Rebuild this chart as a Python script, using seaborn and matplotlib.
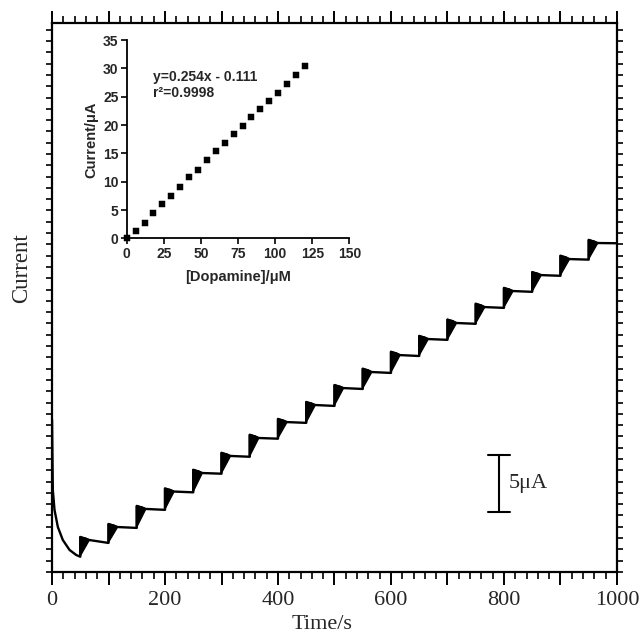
import matplotlib
matplotlib.use("Agg")
import matplotlib.pyplot as plt
from matplotlib.ticker import MultipleLocator, FuncFormatter
import pandas as pd
import seaborn as sns

# amperometric trace, values (time in s, current in uA)
decay_t = [0, 1.4, 4.4, 10.3, 19.1, 31, 42.9, 50]
decay_i = [13.5, 7.26, 5.49, 3.98, 2.83, 1.95, 1.50, 1.35]

step_t = [50, 100, 150, 200, 250, 300, 350, 400, 450, 500,
          550, 600, 650, 700, 750, 800, 850, 900, 950]
step_peak = [3.10, 4.25, 5.85, 7.40, 9.05, 10.55, 12.15, 13.55, 15.05, 16.55,
             18.00, 19.50, 20.90, 22.35, 23.75, 25.15, 26.55, 28.00, 29.40]
step_level = [2.83, 3.98, 5.58, 7.12, 8.76, 10.27, 11.86, 13.27, 14.78, 16.28,
              17.70, 19.20, 20.62, 22.04, 23.45, 24.87, 26.28, 27.70, 29.12]
step_end = [2.57, 3.90, 5.50, 7.05, 8.70, 10.20, 11.80, 13.20, 14.70, 16.20,
            17.62, 19.12, 20.55, 21.97, 23.38, 24.80, 26.22, 27.65, 29.10]
t_end = 1000

# calibration inset
conc = [0, 6, 12, 18, 24, 30, 36, 42, 48, 54, 60, 66, 72, 78, 84, 90, 96, 102, 108, 114, 120]
resp = [0, 1.24, 2.76, 4.41, 6.0, 7.47, 9.12, 10.76, 12.1, 13.8, 15.5, 16.9, 18.4, 19.9,
        21.35, 22.8, 24.3, 25.7, 27.2, 28.8, 30.5]

BLOB_W = 16  # s, width of the noisy transient after each addition
SCALE_T, SCALE_LO, SCALE_HI = 791, 5.34, 10.35

sns.set_theme(style="ticks")
plt.rcParams["font.family"] = ["Liberation Serif", "DejaVu Serif"]

# build the trace as an ordered list of knots
tt = list(decay_t)
ii = list(decay_i)
blobs = []
prev = decay_i[-1]
for k, t in enumerate(step_t):
    nxt = step_t[k + 1] if k + 1 < len(step_t) else t_end
    tt += [t, t + BLOB_W, nxt]
    ii += [step_peak[k], step_level[k], step_end[k]]
    blobs.append(([t - 0.8, t - 0.8, t + 0.6 * BLOB_W, t + BLOB_W],
                  [prev, step_peak[k], step_peak[k] - 0.1, step_level[k]]))
    prev = step_end[k]
trace = pd.DataFrame({"t": tt, "i": ii})

fig = plt.figure(figsize=(6.4, 6.33), dpi=100)
ax = fig.add_axes([0.0813, 0.0964, 0.8827, 0.8673])
sns.lineplot(data=trace, x="t", y="i", sort=False, estimator=None, color="black",
             linewidth=1.7, ax=ax)
for bx, by in blobs:
    ax.fill(bx, by, color="black", linewidth=1.0)

ax.set_xlim(0, 1000)
ax.set_ylim(0, 48.6)
for s in ax.spines.values():
    s.set_visible(True)
    s.set_linewidth(1.6)
    s.set_color("black")
ax.xaxis.set_major_locator(MultipleLocator(100))
ax.xaxis.set_minor_locator(MultipleLocator(20))
ax.xaxis.set_major_formatter(FuncFormatter(lambda v, p: f"{int(v)}" if int(v) % 200 == 0 else ""))
ax.yaxis.set_major_locator(MultipleLocator(1))
ax.yaxis.set_minor_locator(MultipleLocator(1))
ax.tick_params(axis="x", which="major", direction="out", length=9, width=1.4,
               top=True, bottom=True, labelsize=16, pad=5, color="black")
ax.tick_params(axis="x", which="minor", direction="out", length=5, width=1.2,
               top=True, bottom=True, color="black")
ax.tick_params(axis="y", which="both", direction="out", length=4.5, width=1.2,
               left=True, right=True, labelleft=False, color="black")
ax.set_xlabel("Time/s", fontsize=16)
ax.set_ylabel("Current", fontsize=16.5)
ax.xaxis.set_label_coords(0.477, -0.078)
ax.yaxis.set_label_coords(-0.036, 0.554)

# 5 uA scale bar
ax.plot([SCALE_T, SCALE_T], [SCALE_LO, SCALE_HI], color="black", lw=1.5)
ax.plot([SCALE_T - 19, SCALE_T + 19], [SCALE_LO, SCALE_LO], color="black", lw=1.5)
ax.plot([SCALE_T - 19, SCALE_T + 19], [SCALE_HI, SCALE_HI], color="black", lw=1.5)
ax.text(SCALE_T + 18, (SCALE_LO + SCALE_HI) / 2, "5\u03bcA", fontsize=16,
        ha="left", va="center")

# inset
ins = fig.add_axes([0.198, 0.6235, 0.348, 0.313])
ins.set_facecolor("none")
sns.scatterplot(x=conc, y=resp, marker="s", s=18, color="black", edgecolor="black",
                ax=ins, clip_on=False, zorder=5)
ins.set_xlim(0, 150)
ins.set_ylim(0, 35)
ins.xaxis.set_major_locator(MultipleLocator(25))
ins.yaxis.set_major_locator(MultipleLocator(5))
sns.despine(ax=ins)
for s in ["left", "bottom"]:
    ins.spines[s].set_linewidth(1.3)
    ins.spines[s].set_color("black")
ins.tick_params(direction="out", length=4, width=1.2, pad=2, color="black", labelsize=10)
for lab in ins.get_xticklabels() + ins.get_yticklabels():
    lab.set_fontfamily("Liberation Sans")
    lab.set_fontweight("bold")
ins.set_xlabel("[Dopamine]/\u03bcM", fontsize=10.5, fontweight="bold",
               fontfamily="Liberation Sans", labelpad=7)
ins.set_ylabel("Current/\u03bcA", fontsize=10.5, fontweight="bold",
               fontfamily="Liberation Sans", labelpad=3)
ins.text(0.118, 0.813, "y=0.254x - 0.111", transform=ins.transAxes, fontsize=10,
         fontweight="bold", fontfamily="Liberation Sans", va="center")
ins.text(0.118, 0.733, "r\u00b2=0.9998", transform=ins.transAxes, fontsize=10,
         fontweight="bold", fontfamily="Liberation Sans", va="center")

fig.savefig("out.png", dpi=100, facecolor="white")
